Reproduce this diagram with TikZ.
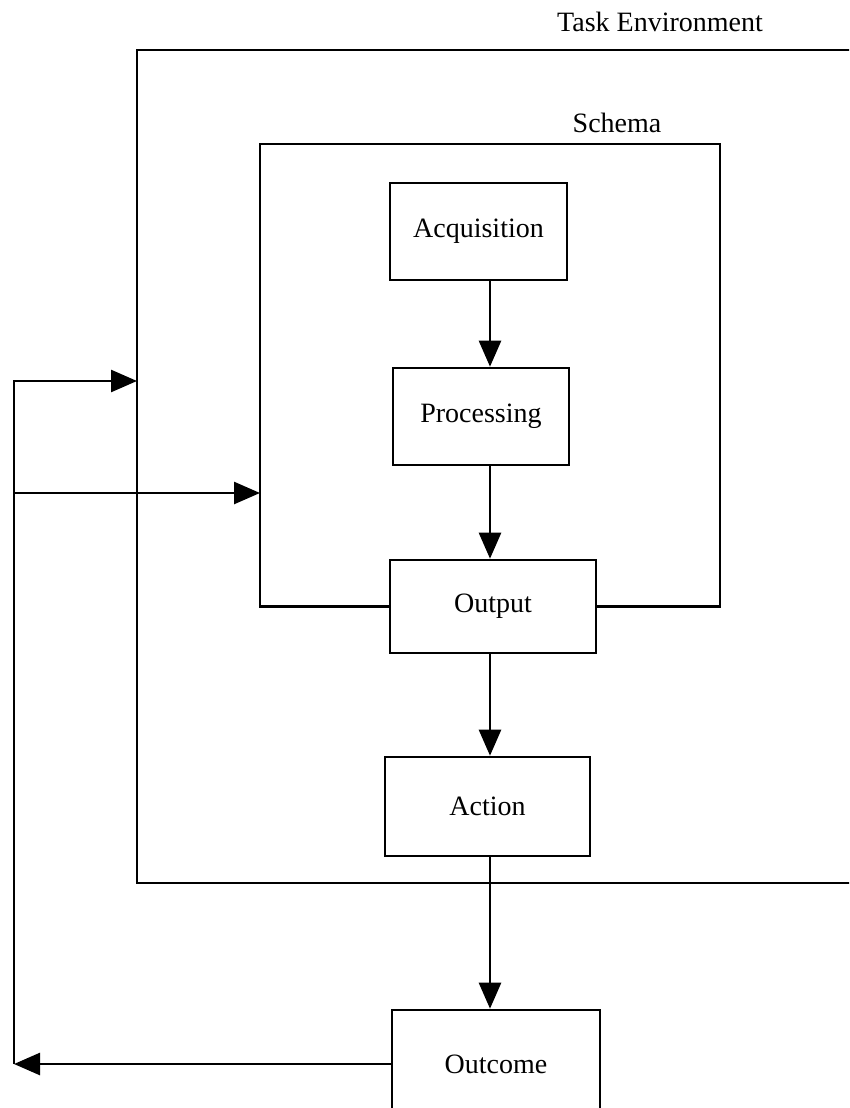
\documentclass[tikz,border=0pt]{standalone}
\usepackage{fontspec}
\setmainfont{Liberation Serif}
\usetikzlibrary{shapes,arrows.meta}
\usetikzlibrary{positioning}

\begin{document}
\begin{tikzpicture}[x=1pt,y=-1pt,line width=2.6pt,
  every node/.style={font=\fontsize{28}{34}\selectfont},
  box/.style={draw,rectangle,inner sep=0pt},
  flow/.style={-{Triangle[length=26pt,width=22pt]}}]

  \useasboundingbox (0,0) rectangle (849,1108);
  \clip (0,0) rectangle (849,1108);

  % corners & guide
  \coordinate (task-nw) at (137,50);
  \coordinate (task-se) at (900,883);
  \coordinate (sch-nw) at (260,144);
  \coordinate (sch-ne) at (720,144);
  \coordinate (axis) at (490,0);

  % task environment
  \draw (task-nw) rectangle (task-se);
  \node[anchor=base] (task) at (660,32) {Task Environment};

  % steps
  \node[box,minimum width=177pt,minimum height=97pt] (acq)  at (478.5,231.5) {Acquisition};
  \node[box,minimum width=176pt,minimum height=97pt] (proc) at (481,416.5)   {Processing};
  \node[box,minimum width=206pt,minimum height=93pt] (outp) at (493,606.5)   {Output};
  \node[box,minimum width=205pt,minimum height=99pt] (act)  at (487.5,806.5) {Action};
  \node[box,minimum width=208pt,minimum height=108pt] (outc) at (496,1064)   {Outcome};

  % schema
  \draw (outp.west) -| (sch-nw) -- (sch-ne) |- (outp.east);
  \node[anchor=base] (schema) at (617,132) {Schema};

  % flow
  \draw[flow] (acq.south -| axis)  -- (proc.north -| axis);
  \draw[flow] (proc.south -| axis) -- (outp.north -| axis);
  \draw[flow] (outp.south -| axis) -- (act.north -| axis);
  \draw[flow] (act.south -| axis)  -- (outc.north -| axis);

  % feedback
  \coordinate (fb-bot) at (14,1064);
  \coordinate (fb-top) at (14,381);
  \coordinate (fb-mid) at (14,493);
  \draw[flow] (outc.west) -- (fb-bot);
  \draw[flow] (fb-bot) -- (fb-top) -- (fb-top -| task-nw);
  \draw[flow] (fb-mid) -- (fb-mid -| sch-nw);

\end{tikzpicture}
\end{document}
